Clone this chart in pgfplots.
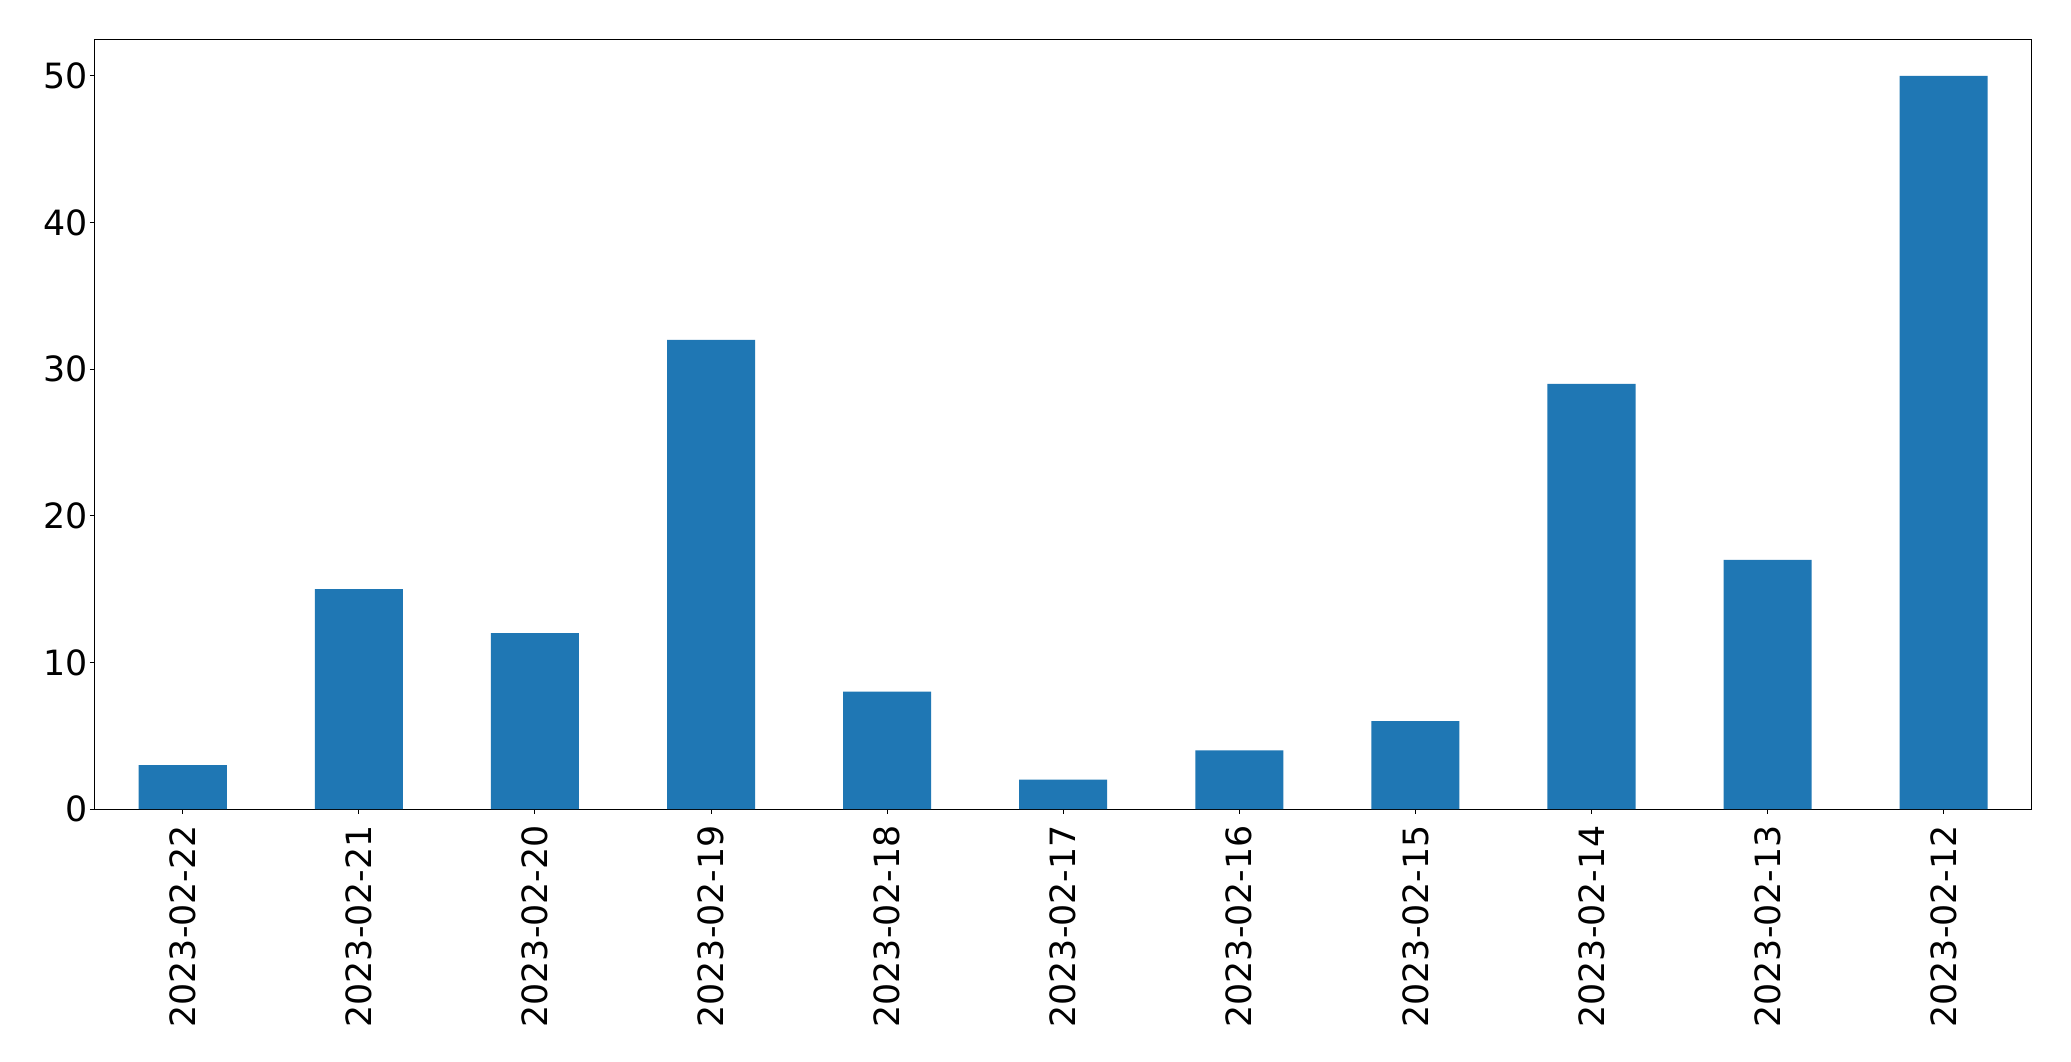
\documentclass[border=0pt]{standalone}
\usepackage{pgfplots}
\pgfplotsset{compat=1.18}
\usepackage{fontspec}
\setmainfont{DejaVu Sans}
\definecolor{mplblue}{HTML}{1F77B4}
\begin{document}
\begin{tikzpicture}
\useasboundingbox (-47.35pt,-126pt) rectangle (988.15pt,404.5pt);
\begin{axis}[
  at={(0,0)}, anchor=south west,
  scale only axis,
  width=968.5pt, height=384.85pt,
  xmin=-0.5, xmax=10.5,
  ymin=0, ymax=52.5,
  xtick={0,1,2,3,4,5,6,7,8,9,10},
  xticklabels={2023-02-22,2023-02-21,2023-02-20,2023-02-19,2023-02-18,2023-02-17,2023-02-16,2023-02-15,2023-02-14,2023-02-13,2023-02-12},
  ytick={0,10,20,30,40,50},
  tick align=outside,
  xtick pos=bottom, ytick pos=left,
  major tick length=2.4pt,
  axis line style={line width=0.5pt},
  every tick/.style={black, line width=0.5pt},
  tick label style={font=\fontsize{17.4}{21}\selectfont, inner sep=0pt},
  xticklabel style={rotate=90, anchor=east},
  xticklabel shift={5.5pt},
  yticklabel style={xshift=-1pt},
  /pgf/number format/assume math mode=true,
  axis background/.style={fill=white},
]
\addplot[ybar, bar width=0.5, fill=mplblue, draw=none] coordinates {
  (0,3) (1,15) (2,12) (3,32) (4,8) (5,2) (6,4) (7,6) (8,29) (9,17) (10,50)
};
\end{axis}
\end{tikzpicture}
\end{document}
